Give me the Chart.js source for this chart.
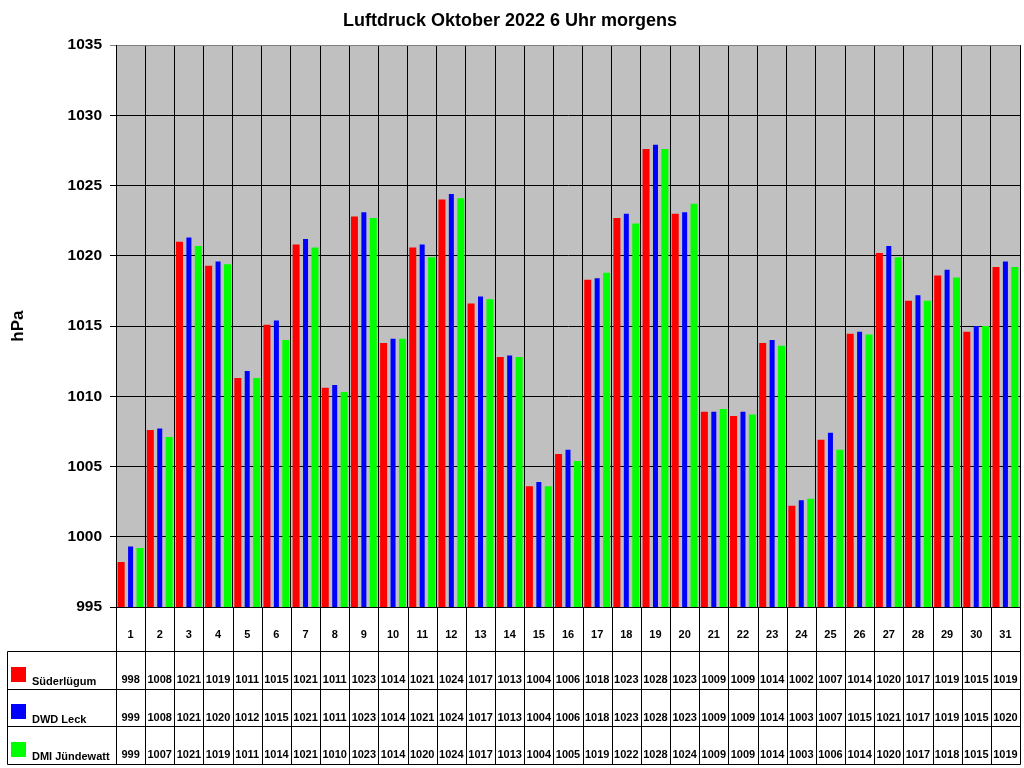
<!DOCTYPE html>
<html>
<head>
<meta charset="utf-8">
<title>Luftdruck Oktober 2022 6 Uhr morgens</title>
<script src="https://cdn.jsdelivr.net/npm/chart.js@4/dist/chart.umd.min.js"></script>
<style>
    body { margin: 0; background: #ffffff; }
    canvas { display: block; }
</style>
</head>
<body>
<canvas id="chart-canvas" width="1024" height="768"></canvas>
<script>
const days = ['1', '2', '3', '4', '5', '6', '7', '8', '9', '10', '11', '12', '13', '14', '15', '16',
    '17', '18', '19', '20', '21', '22', '23', '24', '25', '26', '27', '28', '29', '30', '31'];

// Werte in hPa
const suederluegum = [998.2, 1007.6, 1021.0, 1019.3, 1011.3, 1015.1, 1020.8, 1010.6, 1022.8, 1013.8,
    1020.6, 1024.0, 1016.6, 1012.8, 1003.6, 1005.9, 1018.3, 1022.7, 1027.6, 1023.0,
    1008.9, 1008.6, 1013.8, 1002.2, 1006.9, 1014.45, 1020.2, 1016.8, 1018.6, 1014.6, 1019.2];
const dwdLeck = [999.3, 1007.7, 1021.3, 1019.6, 1011.8, 1015.4, 1021.2, 1010.8, 1023.1, 1014.1,
    1020.8, 1024.4, 1017.1, 1012.9, 1003.9, 1006.2, 1018.4, 1023.0, 1027.9, 1023.1,
    1008.9, 1008.9, 1014.0, 1002.6, 1007.4, 1014.6, 1020.7, 1017.2, 1019.0, 1015.0, 1019.6];
const dmiJuendewatt = [999.2, 1007.1, 1020.7, 1019.4, 1011.3, 1014.0, 1020.6, 1010.3, 1022.7, 1014.1,
    1019.9, 1024.1, 1016.9, 1012.8, 1003.6, 1005.4, 1018.8, 1022.3, 1027.6, 1023.7,
    1009.1, 1008.7, 1013.6, 1002.7, 1006.2, 1014.4, 1019.9, 1016.8, 1018.45, 1015.0, 1019.2];

const stations = ['Süderlügum', 'DWD Leck', 'DMI Jündewatt'];
const stationColors = ['#ff0000', '#0000ff', '#00ff00'];
const barWidths = [7, 5, 7];

const yMin = 995;
const yMax = 1035;
const yStep = 5;

const FONT = "'Liberation Sans', Arial, sans-serif";

// grauer Hintergrund der Zeichenfläche
const plotBackground = {
    id: 'plotBackground',
    beforeDraw(chart) {
        const ctx = chart.ctx;
        const a = chart.chartArea;
        ctx.save();
        ctx.fillStyle = '#ffffff';
        ctx.fillRect(0, 0, chart.width, chart.height);
        ctx.fillStyle = '#c0c0c0';
        ctx.fillRect(a.left, a.top, a.right - a.left, a.bottom - a.top);
        ctx.restore();
    }
};

// Datentabelle unter dem Diagramm
const dataTable = {
    id: 'dataTable',
    afterDraw(chart) {
        const ctx = chart.ctx;
        const xs = chart.scales.x;
        const a = chart.chartArea;
        const half = (xs.getPixelForValue(1) - xs.getPixelForValue(0)) / 2;
        const rows = [suederluegum, dwdLeck, dmiJuendewatt];
        const top = a.bottom;
        const headBottom = top + 44;
        const rowH = 37.5;
        const bottom = headBottom + rowH * 3;
        const px = v => Math.round(v) + 0.5;

        ctx.save();
        ctx.strokeStyle = '#000000';
        ctx.lineWidth = 1;
        ctx.beginPath();
        // senkrechte Linien
        for (let i = 0; i <= days.length; i++) {
            const x = i < days.length ? xs.getPixelForValue(i) - half : xs.getPixelForValue(days.length - 1) + half;
            ctx.moveTo(px(x), top);
            ctx.lineTo(px(x), px(bottom));
        }
        ctx.moveTo(px(7), px(headBottom));
        ctx.lineTo(px(7), px(bottom));
        // waagerechte Linien
        for (let r = 0; r <= 3; r++) {
            const y = px(headBottom + rowH * r);
            ctx.moveTo(px(7), y);
            ctx.lineTo(px(a.right), y);
        }
        ctx.stroke();

        ctx.fillStyle = '#000000';
        ctx.textAlign = 'center';
        ctx.textBaseline = 'middle';
        ctx.font = 'bold 11px ' + FONT;
        days.forEach((d, i) => {
            ctx.fillText(d, xs.getPixelForValue(i), top + 28);
        });

        rows.forEach((vals, r) => {
            const rowBottom = headBottom + rowH * (r + 1);
            ctx.fillStyle = '#000000';
            ctx.textAlign = 'center';
            vals.forEach((v, i) => {
                ctx.fillText(String(Math.round(v)), xs.getPixelForValue(i), rowBottom - 8.5);
            });
            ctx.fillStyle = stationColors[r];
            ctx.fillRect(11, Math.round(rowBottom - 22), 15, 15);
            ctx.fillStyle = '#000000';
            ctx.textAlign = 'left';
            ctx.fillText(stations[r], 32, rowBottom - 6.5);
        });
        ctx.restore();
    }
};

const config = {
    type: 'bar',
    data: {
        labels: days,
        datasets: stations.map((name, i) => ({
            label: name,
            data: [suederluegum, dwdLeck, dmiJuendewatt][i],
            backgroundColor: stationColors[i],
            maxBarThickness: barWidths[i]
        }))
    },
    options: {
        responsive: false,
        animation: false,
        devicePixelRatio: 1,
        layout: {
            padding: { left: 0, right: 4, top: 0, bottom: 161 }
        },
        datasets: {
            bar: { categoryPercentage: 0.97, barPercentage: 0.85 }
        },
        scales: {
            x: {
                offset: true,
                grid: {
                    offset: true,
                    drawTicks: false,
                    color: ctx => (ctx.index === days.length ? '#808080' : '#000000')
                },
                border: { color: '#000000' },
                ticks: { display: false }
            },
            y: {
                min: yMin,
                max: yMax,
                afterFit: scale => { scale.width = 116; },
                ticks: {
                    stepSize: yStep,
                    color: '#000000',
                    padding: 8,
                    font: { family: FONT, size: 15.5, weight: 'bold' },
                    callback: value => String(value)
                },
                grid: {
                    tickLength: 6,
                    color: ctx => (ctx.tick && ctx.tick.value === yMax ? '#808080' : '#000000')
                },
                border: { color: '#000000' },
                title: {
                    display: true,
                    text: 'hPa',
                    color: '#000000',
                    padding: { top: 8, bottom: 0 },
                    font: { family: FONT, size: 17, weight: 'bold' }
                }
            }
        },
        plugins: {
            legend: { display: false },
            tooltip: { enabled: false },
            title: {
                display: true,
                text: 'Luftdruck Oktober 2022 6 Uhr morgens',
                color: '#000000',
                padding: { top: 10, bottom: 13.5 },
                font: { family: FONT, size: 18, weight: 'bold' }
            }
        }
    },
    plugins: [plotBackground, dataTable]
};

const ctx = document.getElementById('chart-canvas').getContext('2d');
const myBarChart = new Chart(ctx, config);
</script>
</body>
</html>
